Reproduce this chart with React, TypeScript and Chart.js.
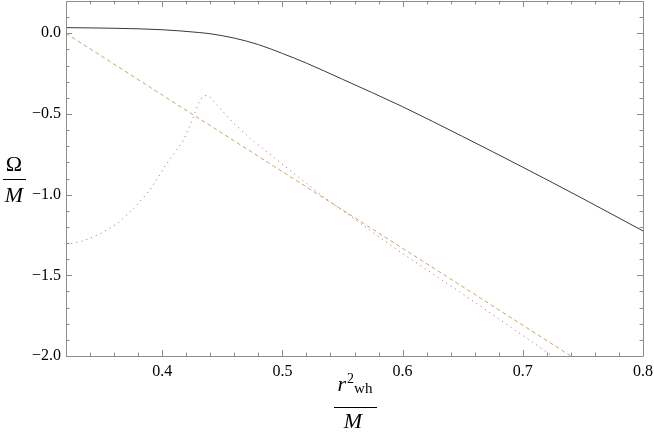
import React, { useEffect, useRef } from "react";
import { Chart, registerables } from "chart.js";

Chart.register(...registerables);

// Solid black curve
const xBlack = [0.32, 0.36, 0.40, 0.43, 0.44, 0.46, 0.48, 0.50, 0.52, 0.55, 0.60, 0.65, 0.70, 0.75, 0.80];
const yBlack = [0.035, 0.031, 0.022, 0.005, -0.003, -0.03, -0.07, -0.125, -0.185, -0.285, -0.455, -0.64, -0.83, -1.025, -1.225];

// Dashed tan line
const xDash = [0.32, 0.39, 0.5978, 0.74];
const yDash = [0.0, -0.335, -1.322, -2.0];

// Dotted purple curve
const xDot = [0.32, 0.335, 0.349, 0.363, 0.3765, 0.39, 0.405, 0.418, 0.426, 0.4305, 0.434, 0.437, 0.44, 0.4456, 0.4594, 0.4732, 0.487, 0.5008, 0.5147, 0.534, 0.5534, 0.5978, 0.6529, 0.7082, 0.7247];
const yDot = [-1.31, -1.285, -1.24, -1.178, -1.085, -0.97, -0.795, -0.661, -0.517, -0.43, -0.39, -0.385, -0.398, -0.444, -0.558, -0.651, -0.734, -0.816, -0.899, -1.013, -1.116, -1.354, -1.63, -1.915, -2.0];

const xMajor = [0.4, 0.5, 0.6, 0.7, 0.8];
const xMinor = [0.34, 0.36, 0.38, 0.42, 0.44, 0.46, 0.48, 0.52, 0.54, 0.56, 0.58, 0.62, 0.64, 0.66, 0.68, 0.72, 0.74, 0.76, 0.78];
const yMajor = [-2.0, -1.5, -1.0, -0.5, 0.0];
const yMinor = [-1.9, -1.8, -1.7, -1.6, -1.4, -1.3, -1.2, -1.1, -0.9, -0.8, -0.7, -0.6, -0.4, -0.3, -0.2, -0.1, 0.1];

const X_MIN = 0.32, X_MAX = 0.8, Y_MIN = -2.0, Y_MAX = 0.2;

const pts = (xs: number[], ys: number[]) => xs.map((x, i) => ({ x, y: ys[i] }));

const fmt = (v: number) => {
  const s = Math.abs(v).toFixed(1);
  return v < -1e-9 ? "\u2212" + s : s;
};

const SERIF = '"Liberation Serif"';

const framePlugin = {
  id: "mmaFrame",
  afterDraw(chart: any) {
    const { ctx, chartArea } = chart;
    const { left, right, top, bottom } = chartArea;
    const xs = chart.scales.x;
    const ys = chart.scales.y;
    ctx.save();
    ctx.strokeStyle = "#8c8c8c";
    ctx.lineWidth = 1;
    ctx.beginPath();
    ctx.rect(Math.round(left) + 0.5, Math.round(top) + 0.5, Math.round(right - left), Math.round(bottom - top));
    ctx.stroke();
    const MAJ = 6, MIN = 3.5;
    ctx.beginPath();
    const xt = (v: number, L: number) => {
      const p = Math.round(xs.getPixelForValue(v)) + 0.5;
      ctx.moveTo(p, bottom); ctx.lineTo(p, bottom - L);
      ctx.moveTo(p, top); ctx.lineTo(p, top + L);
    };
    const yt = (v: number, L: number) => {
      const p = Math.round(ys.getPixelForValue(v)) + 0.5;
      ctx.moveTo(left, p); ctx.lineTo(left + L, p);
      ctx.moveTo(right, p); ctx.lineTo(right - L, p);
    };
    xMajor.forEach((v) => xt(v, MAJ));
    xMinor.forEach((v) => xt(v, MIN));
    yMajor.forEach((v) => yt(v, MAJ));
    yMinor.forEach((v) => yt(v, MIN));
    ctx.stroke();

    // Axis label: Omega / M
    ctx.fillStyle = "#000";
    ctx.textBaseline = "alphabetic";
    ctx.textAlign = "center";
    ctx.font = "22px " + SERIF;
    ctx.fillText("\u03A9", 14, 171);
    ctx.font = "italic 22px " + SERIF;
    ctx.fillText("M", 14, 202);
    ctx.beginPath();
    ctx.strokeStyle = "#000";
    ctx.moveTo(3, 179.5); ctx.lineTo(26, 179.5);
    ctx.stroke();

    // Axis label: r^2_wh / M
    const cx = 355;
    ctx.textAlign = "left";
    ctx.font = "italic 22px " + SERIF;
    const wr = ctx.measureText("r").width;
    ctx.font = "14px " + SERIF;
    const w2 = ctx.measureText("2").width;
    ctx.font = "15px " + SERIF;
    const wwh = ctx.measureText("wh").width;
    const total = wr + w2 + wwh + 1;
    const x0 = cx - total / 2;
    ctx.font = "italic 22px " + SERIF;
    ctx.fillText("r", x0, 391);
    ctx.font = "14px " + SERIF;
    ctx.fillText("2", x0 + wr + 1, 383);
    ctx.font = "15px " + SERIF;
    ctx.fillText("wh", x0 + wr + w2 + 1, 393);
    ctx.beginPath();
    ctx.moveTo(334, 407.5); ctx.lineTo(377, 407.5);
    ctx.stroke();
    ctx.textAlign = "center";
    ctx.font = "italic 22px " + SERIF;
    ctx.fillText("M", cx - 2, 428);
    ctx.restore();
  },
};

export default function App() {
  const ref = useRef<HTMLCanvasElement | null>(null);
  useEffect(() => {
    if (!ref.current) return;
    const chart = new Chart(ref.current, {
      type: "scatter",
      data: {
        datasets: [
          {
            data: pts(xBlack, yBlack),
            showLine: true,
            borderColor: "#3a3a3a",
            borderWidth: 1,
            pointRadius: 0,
            cubicInterpolationMode: "monotone",
          },
          {
            data: pts(xDash, yDash),
            showLine: true,
            borderColor: "rgb(190,172,105)",
            borderWidth: 1,
            borderDash: [4, 3],
            pointRadius: 0,
          },
          {
            data: pts(xDot, yDot),
            showLine: true,
            borderColor: "rgb(205,105,160)",
            borderWidth: 1,
            borderDash: [1.2, 4],
            pointRadius: 0,
            tension: 0,
          },
        ],
      },
      options: {
        animation: false,
        responsive: false,
        events: [],
        layout: { padding: { left: 0, right: 11, top: 1, bottom: 0 } },
        plugins: { legend: { display: false }, tooltip: { enabled: false } },
        scales: {
          x: {
            type: "linear",
            min: X_MIN,
            max: X_MAX,
            grid: { display: false, drawTicks: false },
            border: { display: false },
            afterBuildTicks: (s: any) => {
              s.ticks = xMajor.map((value) => ({ value }));
            },
            afterFit: (s: any) => {
              s.height = 80;
              s.paddingLeft = 0;
              s.paddingRight = 0;
            },
            ticks: {
              padding: 6,
              color: "#000",
              font: { family: SERIF, size: 16 },
              maxRotation: 0,
              autoSkip: false,
              callback: (v: any) => fmt(Number(v)),
            },
          },
          y: {
            type: "linear",
            min: Y_MIN,
            max: Y_MAX,
            grid: { display: false, drawTicks: false },
            border: { display: false },
            afterBuildTicks: (s: any) => {
              s.ticks = yMajor.map((value) => ({ value }));
            },
            afterFit: (s: any) => {
              s.width = 66;
              s.paddingTop = 0;
              s.paddingBottom = 0;
            },
            ticks: {
              padding: 5,
              color: "#000",
              font: { family: SERIF, size: 16 },
              autoSkip: false,
              callback: (v: any) => fmt(Number(v)),
            },
          },
        },
      },
      plugins: [framePlugin],
    });
    return () => chart.destroy();
  }, []);
  return (
    <div style={{ position: "fixed", left: 0, top: 0, width: 654, height: 436, background: "#fff" }}>
      <canvas ref={ref} width={654} height={436} style={{ width: 654, height: 436, display: "block" }} />
    </div>
  );
}
